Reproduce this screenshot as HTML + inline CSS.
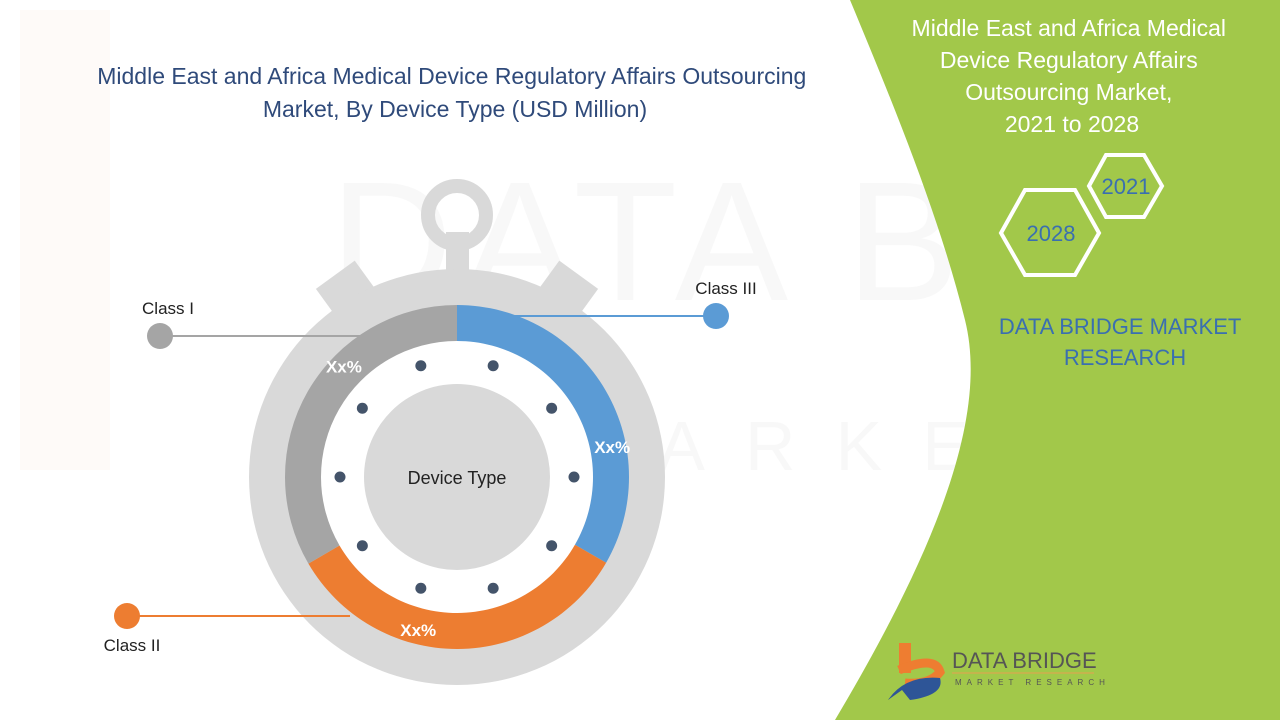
<!DOCTYPE html>
<html><head><meta charset="utf-8">
<style>
body{margin:0;width:1280px;height:720px;overflow:hidden;background:#fff;font-family:"Liberation Sans",Calibri,sans-serif;}
svg{display:block}
</style></head>
<body>
<svg width="1280" height="720" viewBox="0 0 1280 720">
  <!-- watermark -->
  <g opacity="0.035">
    <rect x="20" y="10" width="90" height="460" fill="#e8743b"/>
    <text x="330" y="300" font-size="170" fill="#555" font-family="Liberation Sans Narrow, Liberation Sans" letter-spacing="10">DATA BRIDGE</text>
    <text x="560" y="470" font-size="70" fill="#555" letter-spacing="40">MARKET RESEARCH</text>
  </g>
  <!-- green panel -->
  <path d="M850,0 L1280,0 L1280,720 L835,720 C930,560 990,420 965,320 C940,220 900,120 850,0 Z" fill="#a2c84a"/>
  <text text-anchor="middle" fill="#fff" font-size="23">
    <tspan x="1072" y="36">Middle East and Africa Medical</tspan>
    <tspan x="1072" y="68">Device Regulatory Affairs</tspan>
    <tspan x="1072" y="100">Outsourcing Market,</tspan>
    <tspan x="1072" y="132">2021 to 2028</tspan>
  </text>
  <polygon points="1089,186 1106,155 1144,155 1162,186 1144,217 1106,217" fill="none" stroke="#fff" stroke-width="4"/>
  <text x="1126" y="194" text-anchor="middle" font-size="22" fill="#3a6fb0">2021</text>
  <polygon points="1001,233 1025,190 1075,190 1099,233 1075,275 1025,275" fill="none" stroke="#fff" stroke-width="4"/>
  <text x="1051" y="241" text-anchor="middle" font-size="22" fill="#3a6fb0">2028</text>
  <text text-anchor="middle" fill="#3a6fb0" font-size="22">
    <tspan x="1123" y="334">DATA BRIDGE MARKET</tspan>
    <tspan x="1125" y="365">RESEARCH</tspan>
  </text>
  <!-- logo -->
  <g>
    <rect x="899" y="643" width="12" height="30" fill="#ee7d31"/>
    <path d="M899,670 Q935,655 940,672 Q930,685 905,683" fill="none" stroke="#ee7d31" stroke-width="9"/>
    <path d="M888,700 Q905,675 940,678 Q945,695 910,700 L902,690" fill="#2e5597"/>
    <text x="952" y="668" font-size="22" fill="#555">DATA BRIDGE</text>
    <line x1="952" y1="673" x2="1094" y2="673" stroke="#e8a050" stroke-width="1"/>
    <text x="955" y="685" font-size="8" fill="#555" letter-spacing="5">MARKET RESEARCH</text>
  </g>
  <!-- title -->
  <text text-anchor="middle" fill="#2f4a7a" font-size="23">
    <tspan x="455" y="84">Middle East and Africa Medical Device Regulatory Affairs Outsourcing</tspan>
    <tspan x="455" y="117">Market, By Device Type (USD Million)</tspan>
  </text>
  <!-- stopwatch -->
  <g fill="#d9d9d9">
    <circle cx="457" cy="215" r="29" fill="none" stroke="#d9d9d9" stroke-width="14"/>
    <rect x="446" y="232" width="23" height="45"/>
    <rect x="-24" y="-25" width="48" height="50" transform="translate(350,295) rotate(-36)"/>
    <rect x="-24" y="-25" width="48" height="50" transform="translate(564,295) rotate(36)"/>
    <circle cx="457" cy="477" r="208"/>
    <circle cx="457" cy="477" r="137" fill="#fff"/>
    <circle cx="457" cy="477" r="93"/>
  </g>
  <g id="donut"></g>
  <g id="dots"></g>
  <text x="457" y="484" text-anchor="middle" font-size="18" fill="#222">Device Type</text>
  <g id="legend"></g>
</svg>
<script>
const categories=["Class III","Class II","Class I"];
const values=[33.3,33.3,33.4];
const valueLabels=["Xx%","Xx%","Xx%"];
const labelFraction=[0.66,0.62,0.62];
const colors=["#5b9bd5","#ed7d31","#a5a5a5"];
const NS="http://www.w3.org/2000/svg";
const cx=457,cy=477,R=172,r=136;
function pt(a,rad){return [cx+rad*Math.sin(a),cy-rad*Math.cos(a)];}
const total=values.reduce((a,b)=>a+b,0);
let acc=0;
const donut=document.getElementById('donut');
values.forEach((v,i)=>{
  const a0=acc/total*2*Math.PI;acc+=v;const a1=acc/total*2*Math.PI;
  const large=(a1-a0)>Math.PI?1:0;
  const p1=pt(a0,R),p2=pt(a1,R),p3=pt(a1,r),p4=pt(a0,r);
  const p=document.createElementNS(NS,'path');
  p.setAttribute('d',`M${p1}A${R},${R} 0 ${large} 1 ${p2}L${p3}A${r},${r} 0 ${large} 0 ${p4}Z`);
  p.setAttribute('fill',colors[i]);
  
  
  donut.appendChild(p);
  const am=a0+(a1-a0)*labelFraction[i];const lp=pt(am,158);
  const t=document.createElementNS(NS,'text');
  t.setAttribute('x',lp[0]);t.setAttribute('y',lp[1]+6);
  t.setAttribute('text-anchor','middle');t.setAttribute('fill','#fff');
  t.setAttribute('font-size','17');t.setAttribute('font-weight','bold');
  t.textContent=valueLabels[i];
  
  
  donut.appendChild(t);
});
const dots=document.getElementById('dots');
for(let k=0;k<10;k++){
  const a=(18+36*k)*Math.PI/180;const p=pt(a,117);
  const c=document.createElementNS(NS,'circle');
  c.setAttribute('cx',p[0]);c.setAttribute('cy',p[1]);c.setAttribute('r',5.5);c.setAttribute('fill','#44546a');
  
  
  dots.appendChild(c);
}
const legend=document.getElementById('legend');
const leg=[
 {i:0,dx:716,dy:316,lx:457,tx:726,ty:294},
 {i:1,dx:127,dy:616,lx:350,tx:132,ty:651},
 {i:2,dx:160,dy:336,lx:370,tx:168,ty:314}
];
leg.forEach(l=>{
  const ln=document.createElementNS(NS,'line');
  ln.setAttribute('x1',l.dx);ln.setAttribute('y1',l.dy);ln.setAttribute('x2',l.lx);ln.setAttribute('y2',l.dy);
  ln.setAttribute('stroke',colors[l.i]);ln.setAttribute('stroke-width','2');
  
  
  legend.appendChild(ln);
  const c=document.createElementNS(NS,'circle');
  c.setAttribute('cx',l.dx);c.setAttribute('cy',l.dy);c.setAttribute('r',13);c.setAttribute('fill',colors[l.i]);
  
  
  legend.appendChild(c);
  const t=document.createElementNS(NS,'text');
  t.setAttribute('x',l.tx);t.setAttribute('y',l.ty);t.setAttribute('text-anchor','middle');
  t.setAttribute('font-size','17');t.setAttribute('fill','#222');
  t.textContent=categories[l.i];
  
  
  legend.appendChild(t);
});
</script>
</body></html>
